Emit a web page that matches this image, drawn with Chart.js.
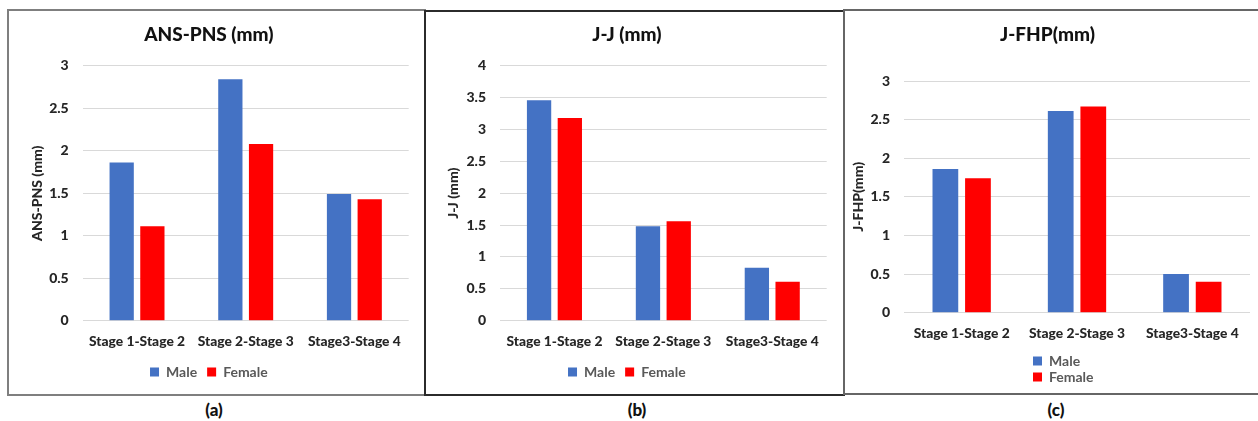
<!DOCTYPE html>
<html>
<head>
<meta charset="utf-8">
<script src="https://cdn.jsdelivr.net/npm/chart.js@4.4.0/dist/chart.umd.min.js"></script>
<style>
  body { margin: 0; background: #fff; width: 1258px; height: 421px; overflow: hidden; position: relative; font-family: Lato, sans-serif; }
  .panel { position: absolute; box-sizing: border-box; }
  #panelA { left: 7px; top: 9px; width: 419px; height: 387px; border: 2px solid #7f7f7f; }
  #panelB { left: 424px; top: 10px; width: 421px; height: 386px; border: 2px solid #2b2b2b; }
  #panelC { left: 843px; top: 9px; width: 420px; height: 386px; border: 2px solid #666; }
  canvas { position: absolute; }
  #chartA { left: 9px; top: 11px; }
  #chartB { left: 427px; top: 12px; }
  #chartC { left: 845px; top: 11px; }
  .cap { position: absolute; top: 399px; font: 900 17px Lato, sans-serif; color: #111; transform: translateX(-50%); }
</style>
</head>
<body>
<div class="panel" id="panelA"></div>
<div class="panel" id="panelB"></div>
<div class="panel" id="panelC"></div>
<canvas id="chartA" width="414" height="382"></canvas>
<canvas id="chartB" width="415" height="381"></canvas>
<canvas id="chartC" width="413" height="383"></canvas>
<div class="cap" style="left:214px">(a)</div>
<div class="cap" style="left:637px">(b)</div>
<div class="cap" style="left:1056px">(c)</div>

<script>
// Data
const stages = ["Stage 1-Stage 2", "Stage 2-Stage 3", "Stage3-Stage 4"];
const seriesNames = ["Male", "Female"];

const ansPnsMale = [1.86, 2.84, 1.49];
const ansPnsFemale = [1.11, 2.08, 1.43];

const jjMale = [3.46, 1.48, 0.83];
const jjFemale = [3.18, 1.56, 0.61];

const jfhpMale = [1.86, 2.61, 0.50];
const jfhpFemale = [1.74, 2.67, 0.40];

Chart.defaults.font.family = "Lato";
Chart.defaults.font.weight = "bold";
Chart.defaults.color = "#262626";

function makeBarChart(id, title, yTitle, male, female, yMax, p, plugins) {
  const ctx = document.getElementById(id).getContext("2d");
  return new Chart(ctx, {
    type: "bar",
    data: {
      labels: stages,
      datasets: [
        { label: seriesNames[0], data: male, backgroundColor: "#4472c4" },
        { label: seriesNames[1], data: female, backgroundColor: "#ff0000" }
      ]
    },
    options: {
      responsive: false,
      animation: false,
      datasets: { bar: { categoryPercentage: 0.565, barPercentage: 0.79 } },
      layout: { padding: { left: 0, right: p.right, top: 0, bottom: p.bottom } },
      plugins: {
        title: {
          display: true,
          text: title,
          color: "#111",
          font: { size: 19, weight: "900" },
          padding: { top: p.titleTop, bottom: p.titleBottom }
        },
        legend: {
          position: "bottom",
          align: p.legendAlign || "center",
          labels: {
            boxWidth: 9,
            boxHeight: 9,
            padding: p.legendPad,
            color: "#595959",
            font: { size: 14, weight: "bold" }
          }
        },
        tooltip: { enabled: false }
      },
      scales: {
        x: {
          grid: { display: false },
          border: { display: false },
          ticks: { padding: 4.2, color: "#262626", font: { size: 13.8, weight: "900" } },
          afterFit(scale) { scale.height = p.xHeight; }
        },
        y: {
          min: 0,
          max: yMax,
          ticks: {
            stepSize: 0.5,
            padding: 14,
            color: "#262626",
            font: { size: 14, weight: "900" },
            callback: (v) => String(Math.round(v * 10) / 10)
          },
          grid: { color: "#d9d9d9", drawTicks: false },
          border: { display: false },
          title: {
            display: true,
            text: yTitle,
            color: "#262626",
            font: { size: 14, weight: "900" },
            padding: { top: p.yTitlePad, bottom: 0 }
          },
          afterFit(scale) { scale.width = p.yWidth; }
        }
      }
    },
    plugins: plugins || []
  });
}

// stacked legend for the third panel (Male above Female)
const stackedLegend = {
  id: "stackedLegend",
  beforeUpdate(chart) {
    const lg = chart.legend;
    if (lg && !lg._stacked) {
      const orig = lg.update;
      lg.update = function (w, h, m) { return orig.call(this, 90, h, m); };
      lg._stacked = true;
    }
  },
  afterLayout(chart) {
    chart.legend.left = 186;
    chart.legend.right = 276;
  }
};

makeBarChart("chartA", "ANS-PNS (mm)", "ANS-PNS (mm)", ansPnsMale, ansPnsFemale, 3, {
  right: 14.3, bottom: 4, titleTop: 12.6, titleBottom: 19.3,
  legendPad: 10, xHeight: 34.3, yWidth: 73.7, yTitlePad: 19.6
});

makeBarChart("chartB", "J-J (mm)", "J-J (mm)", jjMale, jjFemale, 4, {
  right: 15.3, bottom: 4, titleTop: 11.6, titleBottom: 19.3,
  legendPad: 10, xHeight: 34.3, yWidth: 73, yTitlePad: 17.6
});

makeBarChart("chartC", "J-FHP(mm)", "J-FHP(mm)", jfhpMale, jfhpFemale, 3, {
  right: 8, bottom: 0, titleTop: 12.6, titleBottom: 34.6,
  legendPad: 2, legendAlign: "start", xHeight: 39.3, yWidth: 59, yTitlePad: 4.6
}, [stackedLegend]);
</script>
</body>
</html>
